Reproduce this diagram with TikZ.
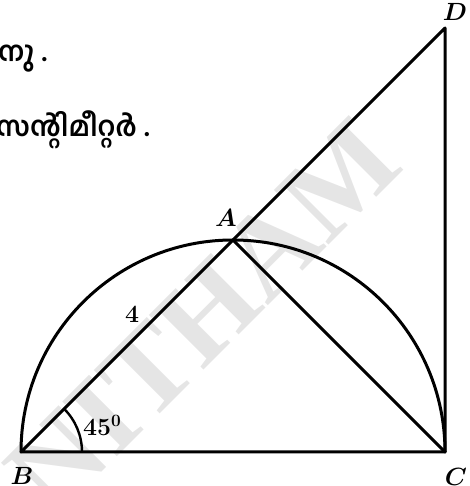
\documentclass[tikz,border=0pt]{standalone}
\usepackage{fontspec}
\usepackage{amsmath}
\usetikzlibrary{calc}
\newfontfamily\mlfont[Script=Malayalam]{Hind Kochi}
\newfontfamily\wmfont{Liberation Serif}
\tikzset{
  geo/.style={line width=3pt, line join=round, line cap=round},
  lbl/.style={inner sep=0pt, font=\fontsize{24}{24}\selectfont\boldmath},
  mltext/.style={inner sep=0pt, anchor=base west, font=\fontsize{27.5}{27.5}\selectfont\mlfont\bfseries},
  wmark/.style={inner sep=0pt, text=black!10, font=\fontsize{118}{118}\selectfont\wmfont\bfseries, rotate=45}
}
\begin{document}
\begin{tikzpicture}[x=1pt,y=1pt]
\useasboundingbox (0,0) rectangle (469,486);
% watermark
\node[wmark] (wm) at (203,170) {NITHAM};
% points
\coordinate (B) at (21,34);
\coordinate (C) at (445,34);
\coordinate (A) at (233,246);
\coordinate (D) at (445,458);
% text
\node[mltext] (t1) at (-2,424) {നു .};
\node[mltext] (t2) at (-4,349) {സന്റിമീറ്റർ .};
% figure
\draw[geo] (C) arc[start angle=0, end angle=180, radius=212];
\draw[geo] (B) -- (C) -- (D) -- (B);
\draw[geo] (A) -- (C);
\draw[line width=2.4pt] ($(B)+(61,0)$) arc[start angle=0, end angle=45, radius=61];
% labels
\node[lbl] (lA) at (226,268) {$A$};
\node[lbl] (lB) at (22,10) {$B$};
\node[lbl] (lC) at (456,9) {$C$};
\node[lbl] (lD) at (455,474) {$D$};
\node[lbl] (l4) at (132,172) {$4$};
\node[lbl,anchor=west] (l45) at (83,61) {$45^0$};
\end{tikzpicture}
\end{document}
